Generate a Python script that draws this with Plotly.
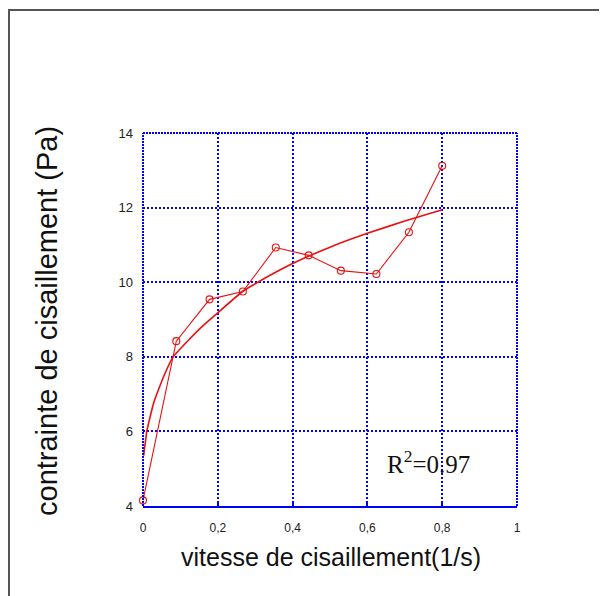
import plotly.graph_objects as go

# measured data (shear rate, shear stress)
shear_rate = [0.0, 0.089, 0.178, 0.267, 0.355, 0.443, 0.529, 0.624, 0.711, 0.800]
shear_stress = [4.15, 8.42, 9.54, 9.75, 10.93, 10.72, 10.31, 10.22, 11.34, 13.12]

# fitted curve
fit_x = [0.002, 0.004, 0.0075, 0.010, 0.019, 0.028, 0.041, 0.059, 0.080, 0.122, 0.16, 0.2,
         0.266, 0.3, 0.4, 0.5, 0.6, 0.7, 0.8]
fit_y = [5.35, 5.55, 5.8, 6.0, 6.39, 6.75, 7.11, 7.56, 7.99, 8.45, 8.83, 9.18,
         9.75, 9.96, 10.5, 10.94, 11.31, 11.64, 11.94]

x_ticks = [0, 0.2, 0.4, 0.6, 0.8, 1]
x_tick_text = ["0", "0,2", "0,4", "0,6", "0,8", "1"]
y_ticks = [4, 6, 8, 10, 12, 14]

r2_text = "R<sup>2</sup>=0.97"
x_title = "vitesse de cisaillement(1/s)"
y_title = "contrainte de cisaillement (Pa)"

OFF = 8  # browser body margin
W, H = 599, 588
L, T = 135, 125
R = W - (517 - OFF)
B = H - (506 - OFF)
pw, ph = W - L - R, H - T - B

def px(xp):
    return (xp - OFF - L) / pw

def py(yp):
    return (H - B - (yp - OFF)) / ph

RED = "#e81010"
BLUE = "#0000ff"

fig = go.Figure()
fig.add_trace(go.Scatter(
    x=fit_x, y=fit_y, mode="lines", line=dict(color=RED, width=1.6, shape="spline", smoothing=0.4),
    hoverinfo="skip", showlegend=False))
fig.add_trace(go.Scatter(
    x=shear_rate, y=shear_stress, mode="lines+markers",
    line=dict(color=RED, width=1.1),
    marker=dict(symbol="circle-open", size=7, color=RED, line=dict(width=1.1)),
    showlegend=False, cliponaxis=False))

grid = dict(showgrid=True, gridcolor=BLUE, gridwidth=1.5, griddash="2px,2px", zeroline=False)

fig.update_layout(
    width=W, height=H,
    margin=dict(l=L, r=R, t=T, b=B, pad=0),
    paper_bgcolor="white", plot_bgcolor="white",
    font=dict(family="Liberation Sans, Arial, sans-serif", color="#222"),
    xaxis=dict(range=[0, 1], tickvals=x_ticks, ticktext=x_tick_text,
               showline=True, linecolor=BLUE, linewidth=1.5, mirror=False,
               ticks="inside", ticklen=5, tickcolor=BLUE, tickwidth=1.5,
               tickfont=dict(size=12, color="#222"), ticklabelstandoff=10, **grid),
    yaxis=dict(range=[4, 14], tickvals=y_ticks, showline=False, ticks="",
               tickfont=dict(size=13, color="#222"), ticklabelstandoff=9, **grid),
    annotations=[
        dict(x=0.763, y=5.18, xref="x", yref="y", text=r2_text, showarrow=False,
             xanchor="center", yanchor="middle",
             font=dict(family="Liberation Serif, Times New Roman, serif", size=25, color="#111")),
        dict(x=px(331), y=py(557), xref="paper", yref="paper", text=x_title, showarrow=False,
             xanchor="center", yanchor="middle", font=dict(size=25, color="#111")),
        dict(x=px(47), y=py(321), xref="paper", yref="paper", text=y_title, showarrow=False,
             xanchor="center", yanchor="middle", textangle=-90, font=dict(size=29, color="#111")),
    ],
    shapes=[
        dict(type="rect", xref="paper", yref="paper",
             x0=px(9), x1=px(680), y0=py(680), y1=py(10),
             line=dict(color="#555", width=2), fillcolor="rgba(0,0,0,0)", layer="below"),
        # plot frame: top, right, left (dotted like the grid)
        dict(type="line", xref="paper", yref="paper", x0=0, x1=1, y0=1, y1=1,
             line=dict(color=BLUE, width=2, dash="2px,1px")),
        dict(type="line", xref="paper", yref="paper", x0=1, x1=1, y0=0, y1=1,
             line=dict(color=BLUE, width=2, dash="2px,1px")),
        dict(type="line", xref="paper", yref="paper", x0=0, x1=0, y0=0, y1=1,
             line=dict(color=BLUE, width=2, dash="2px,1px")),
    ],
)

fig.write_html("out.html")
